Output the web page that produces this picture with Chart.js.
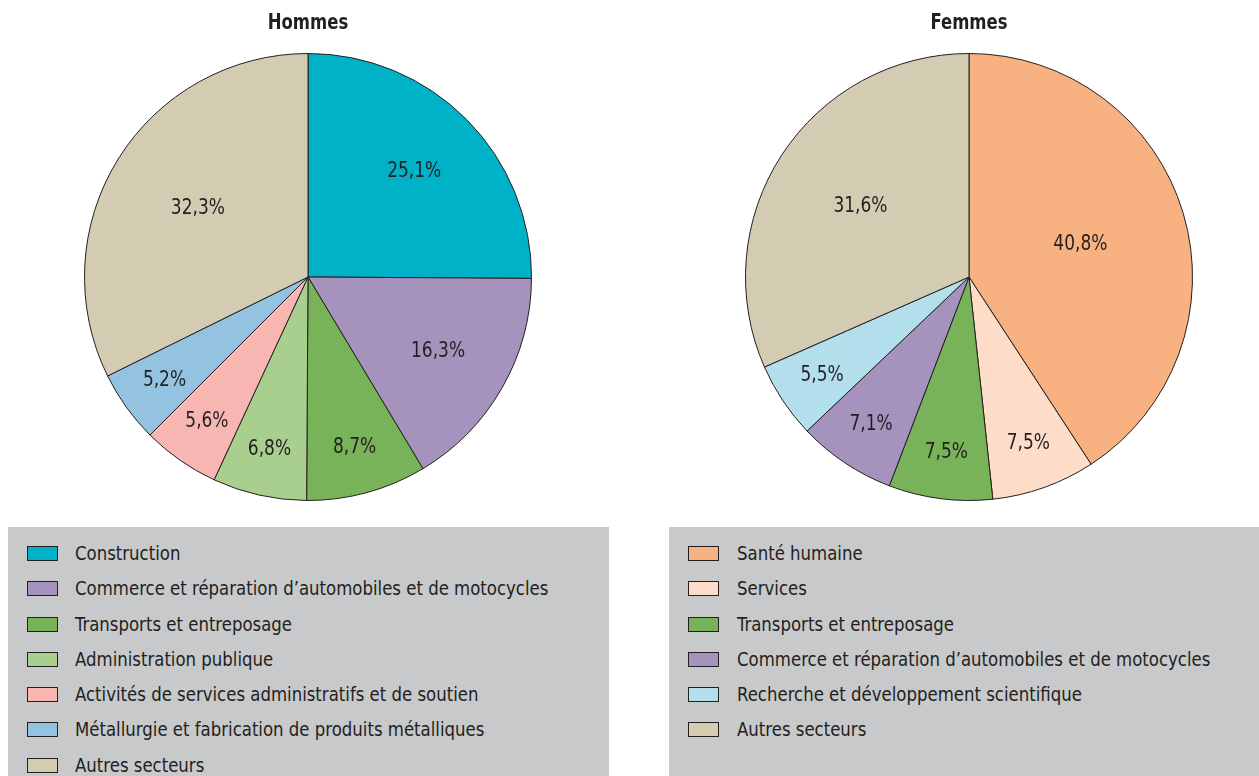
<!DOCTYPE html>
<html lang="fr">
<head>
<meta charset="utf-8">
<title>Hommes / Femmes</title>
<script src="https://cdn.jsdelivr.net/npm/chart.js@4/dist/chart.umd.min.js"></script>
<style>
  html, body { margin: 0; padding: 0; background: #fff; overflow: hidden; }
  body { width: 1259px; height: 776px; position: relative; }
  canvas { position: absolute; top: 0; }
  #chart-hommes { left: 0; }
  #chart-femmes { left: 661px; }
  .legend-box {
    position: absolute;
    top: 527px;
    height: 260px;
    background: #c8c9cb;
    font-family: 'Liberation Sans Narrow', 'DejaVu Sans Condensed', Roboto, sans-serif;
    font-size: 20px;
    color: #231f20;
  }
  #legend-hommes { left: 8px; width: 601px; }
  #legend-femmes { left: 669px; width: 590px; }
  .legend-box ul { list-style: none; margin: 0; padding: 14px 0 0 0; }
  .legend-box li { height: 35.3px; line-height: 24px; position: relative; white-space: nowrap; }
  .legend-box .swatch {
    position: absolute; top: 5px; left: 19px; width: 29px; height: 13px;
    border: 1px solid #231f20;
  }
  .legend-box .txt { display: inline-block; transform: scaleX(0.92); transform-origin: left center; }
  #legend-hommes li { padding-left: 67px; }
  #legend-femmes li { padding-left: 68px; }
</style>
</head>
<body>
<canvas id="chart-hommes" width="616" height="520"></canvas>
<canvas id="chart-femmes" width="616" height="520"></canvas>
<div class="legend-box" id="legend-hommes"><ul id="list-hommes"></ul></div>
<div class="legend-box" id="legend-femmes"><ul id="list-femmes"></ul></div>

<script>
'use strict';

// *** Data ***

let hommesLabels = [
  'Construction',
  'Commerce et réparation d’automobiles et de motocycles',
  'Transports et entreposage',
  'Administration publique',
  'Activités de services administratifs et de soutien',
  'Métallurgie et fabrication de produits métalliques',
  'Autres secteurs'
];
let hommesValues = [25.1, 16.3, 8.7, 6.8, 5.6, 5.2, 32.3];
let hommesColors = ['#00b2c7', '#a693bd', '#78b35a', '#a9cf8f', '#f8b6b3', '#93c3e0', '#d4cbb3'];

let femmesLabels = [
  'Santé humaine',
  'Services',
  'Transports et entreposage',
  'Commerce et réparation d’automobiles et de motocycles',
  'Recherche et développement scientifique',
  'Autres secteurs'
];
let femmesValues = [40.8, 7.5, 7.5, 7.1, 5.5, 31.6];
let femmesColors = ['#f8b281', '#fddcc8', '#78b35a', '#a693bd', '#b3dfec', '#d4cbb3'];

let fontFamily = "'Liberation Sans Narrow', 'DejaVu Sans Condensed', Roboto, sans-serif";
let textColor = '#231f20';
let squeeze = 0.86; // narrow the text to look like a condensed face

// *** Plugins ***

// Title above the pie, drawn narrow
let pieTitle = {
  id: 'pieTitle',
  afterDraw(chart, args, opts) {
    let c = chart.ctx;
    c.save();
    c.font = 'bold 22px ' + fontFamily;
    c.fillStyle = textColor;
    c.textAlign = 'center';
    c.textBaseline = 'middle';
    c.translate(chart.width / 2, 23);
    c.scale(squeeze * 0.97, 1);
    c.fillText(opts.text, 0, 0);
    c.restore();
  }
};

// Draws the percentage inside each slice
let sliceLabels = {
  id: 'sliceLabels',
  afterDatasetsDraw(chart) {
    let c = chart.ctx;
    let meta = chart.getDatasetMeta(0);
    let values = chart.data.datasets[0].data;
    c.save();
    c.font = '22px ' + fontFamily;
    c.fillStyle = textColor;
    c.textAlign = 'center';
    c.textBaseline = 'middle';
    meta.data.forEach((arc, i) => {
      let v = values[i];
      // big slices keep their label nearer the centre
      let f = v < 10 ? 0.79 : v < 30 ? 0.67 : v < 35 ? 0.58 : 0.52;
      let mid = (arc.startAngle + arc.endAngle) / 2;
      let x = arc.x + Math.cos(mid) * arc.outerRadius * f;
      let y = arc.y + Math.sin(mid) * arc.outerRadius * f;
      c.save();
      c.translate(x, y);
      c.scale(squeeze, 1);
      c.fillText(v.toFixed(1).replace('.', ',') + '%', 0, 0);
      c.restore();
    });
    c.restore();
  }
};

// *** Helpers ***

function renderPie(canvasId, title, labels, values, colors) {
  new Chart(document.getElementById(canvasId), {
    type: 'pie',
    data: {
      labels: labels,
      datasets: [{
        data: values,
        backgroundColor: colors,
        borderColor: textColor,
        borderWidth: 1
      }]
    },
    options: {
      responsive: false,
      animation: false,
      layout: { padding: { top: 53, bottom: 19 } },
      plugins: {
        legend: { display: false },
        tooltip: { enabled: false },
        title: { display: false },
        pieTitle: { text: title }
      }
    },
    plugins: [sliceLabels, pieTitle]
  });
}

function renderLegend(listId, labels, colors) {
  let list = document.getElementById(listId);
  for (let i = 0; i < labels.length; i++) {
    let item = document.createElement('li');
    let swatch = document.createElement('span');
    swatch.className = 'swatch';
    swatch.style.background = colors[i];
    let txt = document.createElement('span');
    txt.className = 'txt';
    txt.textContent = labels[i];
    item.appendChild(swatch);
    item.appendChild(txt);
    list.appendChild(item);
  }
}

// *** Executable Code ***

renderPie('chart-hommes', 'Hommes', hommesLabels, hommesValues, hommesColors);
renderPie('chart-femmes', 'Femmes', femmesLabels, femmesValues, femmesColors);
renderLegend('list-hommes', hommesLabels, hommesColors);
renderLegend('list-femmes', femmesLabels, femmesColors);
</script>
</body>
</html>
